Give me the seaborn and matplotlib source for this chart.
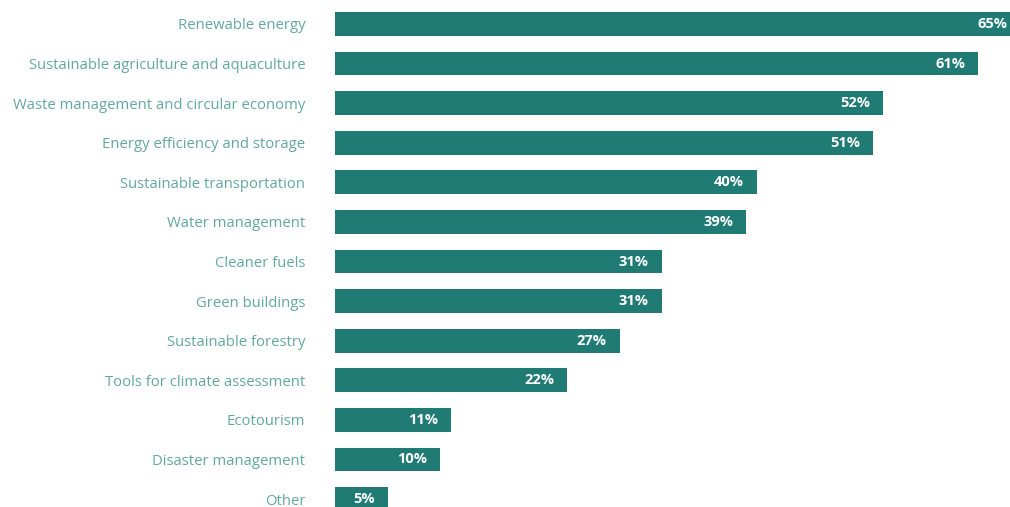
import seaborn as sns
import matplotlib.pyplot as plt
import pandas as pd

categories = [
    "Renewable energy",
    "Sustainable agriculture and aquaculture",
    "Waste management and circular economy",
    "Energy efficiency and storage",
    "Sustainable transportation",
    "Water management",
    "Cleaner fuels",
    "Green buildings",
    "Sustainable forestry",
    "Tools for climate assessment",
    "Ecotourism",
    "Disaster management",
    "Other",
]
shares = [65, 61, 52, 51, 40, 39, 31, 31, 27, 22, 11, 10, 5]

df = pd.DataFrame({"category": categories, "share": shares})

bar_color = "#1f7b73"
label_color = "#62a89e"

fig = plt.figure(figsize=(10.1, 5.07), dpi=100)
ax = fig.add_axes([335 / 1010, 0, 675 / 1010, 1])

sns.barplot(data=df, x="share", y="category", orient="h", color=bar_color,
            width=0.6, saturation=1, ax=ax)

ax.set_xlim(0, 64)
ax.set_ylim(12.2, -0.606)
ax.set_xlabel("")
ax.set_ylabel("")
ax.set_xticks([])
sns.despine(ax=ax, left=True, bottom=True, top=True, right=True)
ax.tick_params(axis="y", length=0, pad=21.5, labelsize=10.7, labelcolor=label_color)
for t in ax.get_yticklabels():
    t.set_fontfamily("Open Sans")

# value labels inside the bar ends (top bar runs past the frame)
for i, v in enumerate(shares):
    ax.annotate(f"{v}%", xy=(v, i), xytext=(-13, 0), textcoords="offset pixels",
                ha="right", va="center", color="white", fontsize=10.5,
                fontweight="bold", fontfamily="Open Sans", annotation_clip=False)

fig.savefig("out.png", dpi=100)
